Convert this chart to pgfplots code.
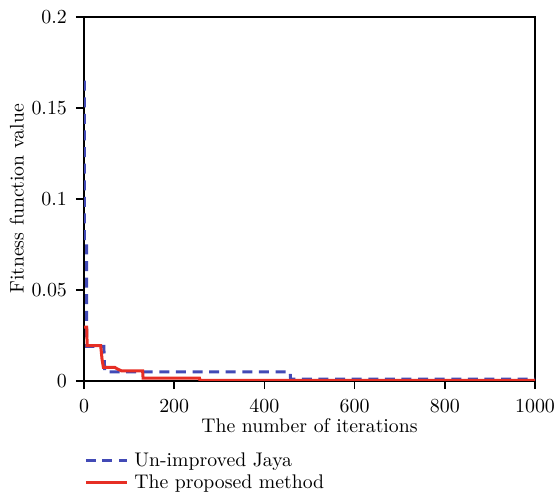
\documentclass[border=0pt]{standalone}
\usepackage{pgfplots}
\pgfplotsset{compat=1.18}

\definecolor{jayablue}{RGB}{66,74,182}
\definecolor{propred}{RGB}{230,46,36}

\begin{document}
\begin{tikzpicture}
\begin{axis}[
  scale only axis,
  width=225.5bp,
  height=182bp,
  xmin=0, xmax=1000,
  ymin=0, ymax=0.2,
  xtick={0,200,400,600,800,1000},
  ytick={0,0.05,0.1,0.15,0.2},
  scaled y ticks=false,
  yticklabel style={/pgf/number format/fixed, /pgf/number format/precision=2, xshift=-1bp},
  xticklabel style={/pgf/number format/1000 sep={}, yshift=-2bp},
  tick align=outside,
  major tick length=4bp,
  xtick pos=bottom,
  ytick pos=left,
  axis line style={line width=0.6pt},
  major tick style={line width=0.8pt, black},
  font=\fontsize{9.9}{11}\selectfont,
  xlabel={The number of iterations},
  ylabel={Fitness function value},
  xlabel style={yshift=4bp},
  ylabel style={yshift=-3bp},
  legend style={at={(0,-0.173)}, anchor=north west, draw=none,
    fill=none, inner xsep=0pt, row sep=-1.2bp,
    nodes={inner xsep=3bp}},
  legend cell align=left,
  legend image code/.code={\draw[#1] (0bp,0bp) -- (20.5bp,0bp);},
]
\addplot[jayablue, line width=1.5bp, dash pattern=on 5bp off 3.3bp]
coordinates{
(1,0.165)
(1,0.077)
(6,0.077)
(6,0.019)
(44,0.019)
(46,0.005)
(457,0.005)
(458,0.001)
(1000,0.001)
};
\addplot[propred, line width=1.5bp]
coordinates{
(0,0.0296)
(6,0.0296)
(7,0.0194)
(37,0.0194)
(40,0.012)
(43,0.0075)
(68,0.0075)
(75,0.0065)
(83,0.0056)
(130,0.0056)
(131,0.0016)
(256,0.0016)
(257,0.0003)
(1000,0.0003)
};
\legend{Un-improved Jaya, The proposed method}
\end{axis}
\pgfresetboundingbox
\path[use as bounding box] ([shift={(-42bp,-56.5bp)}]current axis.south west)
  rectangle ([shift={(10.5bp,8.5bp)}]current axis.north east);
\end{tikzpicture}
\end{document}
